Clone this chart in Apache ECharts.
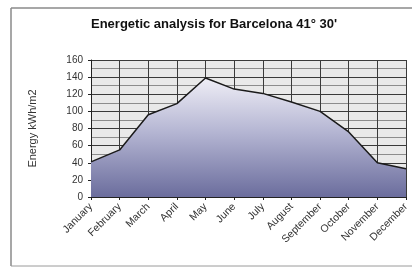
<!DOCTYPE html>
<html><head><meta charset="utf-8">
<script src="https://cdn.jsdelivr.net/npm/echarts@6/dist/echarts.min.js"></script>
<style>html,body{margin:0;padding:0;background:#fff}#c{width:412px;height:268px}</style>
</head><body><div id="c"></div>
<script>
const titleText = "Energetic analysis for Barcelona 41° 30'";
const yAxisName = "Energy kWh/m2";
const months = ["January","February","March","April","May","June","July","August","September","October","November","December"];
const energy = [41, 55, 96, 109, 139, 126, 121, 111, 100, 76, 40, 33];
const yMin = 0, yMax = 160, yStep = 20;

const chart = echarts.init(document.getElementById('c'), null, {renderer:'canvas'});
chart.setOption({
  animation:false,
  backgroundColor:'#fff',
  title:{text:titleText,left:209,textAlign:'center',top:13,
    textStyle:{fontFamily:'Liberation Sans, Arial',fontSize:13,fontWeight:'bold',color:'#111'}},
  graphic:[
    {type:'line',shape:{x1:11,y1:8,x2:412,y2:8},style:{stroke:'#8a8a8a',lineWidth:1.5},silent:true},
    {type:'line',shape:{x1:11,y1:8,x2:11,y2:266},style:{stroke:'#8a8a8a',lineWidth:1.5},silent:true},
    {type:'line',shape:{x1:11,y1:266,x2:412,y2:266},style:{stroke:'#9a9a9a',lineWidth:1},silent:true}
  ],
  grid:{left:91,right:3,top:60,bottom:71,show:true,backgroundColor:'#e9e9e9',borderWidth:0},
  xAxis:{type:'category',data:months,boundaryGap:false,
    axisLine:{lineStyle:{color:'#222',width:1}},
    axisTick:{show:true,alignWithLabel:true,length:3,lineStyle:{color:'#222'}},
    splitLine:{show:true,lineStyle:{color:'#3a3a3a',width:1}},
    axisLabel:{rotate:45,fontFamily:'Liberation Sans, Arial',fontSize:10.5,color:'#333',margin:8}},
  yAxis:{type:'value',min:yMin,max:yMax,interval:yStep,
    name:yAxisName,nameLocation:'middle',nameGap:53,nameRotate:90,
    nameTextStyle:{fontFamily:'Liberation Sans, Arial',fontSize:11,color:'#333',padding:[0,0,0,0]},
    axisLine:{show:true,lineStyle:{color:'#222'}},
    axisTick:{show:true,length:3,lineStyle:{color:'#222'}},
    splitLine:{show:true,lineStyle:{color:'#3a3a3a',width:1}},
    minorTick:{show:false,splitNumber:2},
    minorSplitLine:{show:true,lineStyle:{color:'#8c8c8c',width:1}},
    axisLabel:{fontFamily:'Liberation Sans, Arial',fontSize:10,color:'#333',margin:8}},
  series:[{type:'line',data:energy,symbol:'none',
    lineStyle:{color:'#1a1a1a',width:1.5},
    areaStyle:{opacity:1,color:{type:'linear',x:0,y:0,x2:0,y2:1,colorStops:[
      {offset:0,color:'#efeef6'},{offset:0.45,color:'#b5b6d3'},{offset:1,color:'#6b6d9d'}]}}}]
});
</script></body></html>
